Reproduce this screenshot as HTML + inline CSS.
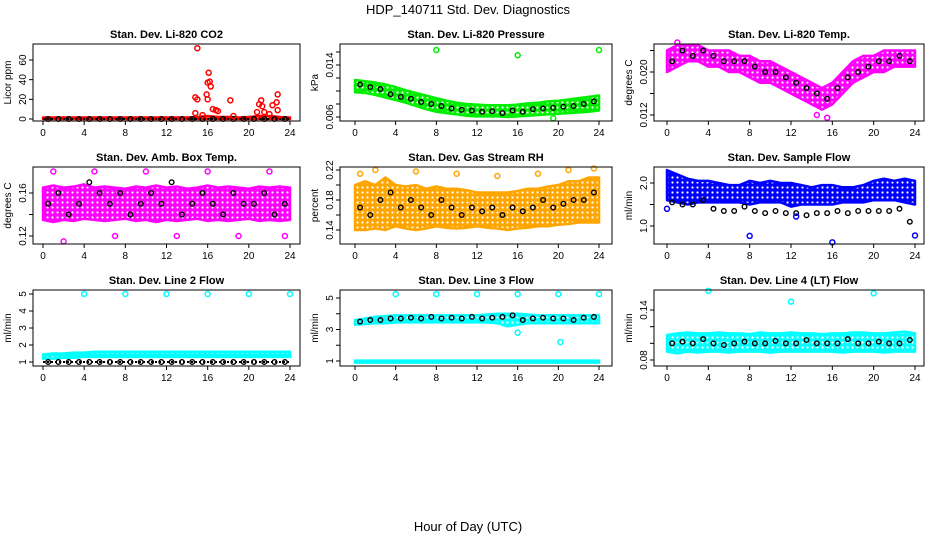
<!DOCTYPE html>
<html><head><meta charset="utf-8"><style>
body{margin:0;background:#fff}
svg{display:block;font-family:"Liberation Sans",sans-serif}
</style></head><body>
<svg id="c" width="936" height="540">
<defs id="defs"></defs>
<text x="468" y="14" font-size="13" text-anchor="middle">HDP_140711  Std. Dev. Diagnostics</text>
<text x="468" y="531" font-size="13" text-anchor="middle">Hour of Day (UTC)</text>
</svg>
<script>
const xTicks=[0,4,8,12,16,20,24];
// CO2
const co2Lo=[0,0,0,0,0,0,0,0,0,0,0,0,0,0,0,0,0,0,0,0,0,0,0,0,0];
const co2Hi=[1.5,1.5,1.5,1.5,1.5,1.5,1.5,1.5,1.5,1.5,1.5,1.5,1.5,1.5,1.5,2,3,2,2,1.5,2,3,3,2,1.5];
const co2Black=[0,0,0,0,0,0,0,0,0,0,0,0,0,0,0,0,0,0,0,0,0,0,0,0];
const co2OutX=[15,14.8,15,15.9,16,16,16.1,16.2,16.3,16.5,17,18.2,14.8,16.8,20.8,21,21.2,21.3,22.3,22.7,22.8,22.8,21.5,22,15.5,18.5];
const co2OutY=[72,22,20,25,20,37,47,38,33,10,8,19,6,9,7,15,19,13,14,17,25,9,7,5,4,3];
// Pressure
const prLo=[0.0098,0.0097,0.0094,0.0090,0.0086,0.0082,0.0077,0.0072,0.0068,0.0066,0.0064,0.0062,0.0061,0.0061,0.0061,0.0060,0.0061,0.0062,0.0063,0.0064,0.0065,0.0066,0.0067,0.0068,0.0070];
const prHi=[0.0117,0.0115,0.0113,0.0110,0.0106,0.0101,0.0097,0.0093,0.0089,0.0085,0.0082,0.0080,0.0079,0.0078,0.0078,0.0078,0.0079,0.0081,0.0082,0.0084,0.0085,0.0087,0.0089,0.0091,0.0093];
const prBlack=[0.0110,0.0106,0.0103,0.0095,0.0091,0.0088,0.0083,0.0080,0.0077,0.0073,0.0071,0.0070,0.0068,0.0069,0.0066,0.0070,0.0068,0.0072,0.0073,0.0074,0.0076,0.0077,0.0080,0.0084];
const prOutX=[8,16,24,19.5];
const prOutY=[0.0163,0.0155,0.0163,0.0058];
// Temp
const tpLo=[0.020,0.021,0.022,0.022,0.021,0.021,0.020,0.020,0.019,0.018,0.018,0.017,0.016,0.015,0.014,0.013,0.014,0.016,0.018,0.019,0.020,0.020,0.021,0.021,0.021];
const tpHi=[0.024,0.025,0.025,0.025,0.024,0.024,0.024,0.023,0.023,0.022,0.022,0.021,0.020,0.019,0.018,0.017,0.018,0.020,0.022,0.023,0.023,0.024,0.024,0.024,0.024];
const tpBlack=[0.022,0.024,0.023,0.024,0.023,0.022,0.022,0.022,0.021,0.020,0.020,0.019,0.018,0.017,0.016,0.015,0.017,0.019,0.020,0.021,0.022,0.022,0.023,0.022];
const tpOutX=[1,14.5,15.5];
const tpOutY=[0.0255,0.012,0.0115];
// Amb box
const abLo=[0.135,0.133,0.135,0.134,0.136,0.135,0.134,0.135,0.136,0.134,0.135,0.133,0.135,0.134,0.135,0.136,0.134,0.135,0.134,0.135,0.136,0.134,0.135,0.134,0.135];
const abHi=[0.165,0.167,0.165,0.166,0.168,0.165,0.166,0.165,0.164,0.166,0.165,0.167,0.165,0.166,0.164,0.165,0.167,0.165,0.166,0.165,0.164,0.166,0.165,0.166,0.165];
const abBlack=[0.15,0.16,0.14,0.15,0.17,0.16,0.15,0.16,0.14,0.15,0.16,0.15,0.17,0.14,0.15,0.16,0.15,0.14,0.16,0.15,0.15,0.16,0.14,0.15];
const abOutX=[1,2,5,7,10,13,16,19,22,23.5];
const abOutY=[0.18,0.115,0.18,0.12,0.18,0.12,0.18,0.12,0.18,0.12];
// RH
const rhLo=[0.14,0.14,0.142,0.14,0.145,0.142,0.14,0.142,0.145,0.143,0.142,0.143,0.145,0.143,0.142,0.14,0.142,0.143,0.145,0.145,0.147,0.148,0.15,0.15,0.15];
const rhHi=[0.20,0.205,0.20,0.21,0.20,0.198,0.20,0.195,0.198,0.195,0.195,0.193,0.19,0.19,0.19,0.19,0.192,0.195,0.195,0.198,0.20,0.205,0.205,0.21,0.21];
const rhBlack=[0.17,0.16,0.18,0.19,0.17,0.18,0.17,0.16,0.18,0.17,0.16,0.17,0.165,0.17,0.16,0.17,0.165,0.17,0.18,0.17,0.175,0.18,0.18,0.19];
const rhOutX=[0.5,2,6,10,14,18,21,23.5];
const rhOutY=[0.215,0.22,0.218,0.215,0.212,0.215,0.22,0.222];
// Sample flow
const sfLo=[1.6,1.55,1.5,1.55,1.55,1.55,1.55,1.55,1.5,1.55,1.55,1.55,1.45,1.5,1.5,1.5,1.5,1.55,1.55,1.55,1.6,1.6,1.6,1.55,1.5];
const sfHi=[2.3,2.2,2.1,2.05,2.05,2.0,1.95,1.95,2.05,2.0,2.05,2.0,2.0,1.95,1.9,1.95,1.95,1.9,1.9,1.95,2.05,2.1,2.05,2.1,2.05];
const sfBlack=[1.55,1.5,1.5,1.6,1.4,1.35,1.35,1.45,1.35,1.3,1.35,1.3,1.3,1.25,1.3,1.3,1.35,1.3,1.35,1.35,1.35,1.35,1.4,1.1];
const sfOutX=[0,8,16,24,12.5];
const sfOutY=[1.4,0.77,0.62,0.78,1.22];
// Line 2
const l2Lo=[1.2,1.2,1.25,1.25,1.3,1.3,1.3,1.3,1.3,1.3,1.3,1.3,1.3,1.3,1.3,1.3,1.3,1.3,1.3,1.3,1.3,1.3,1.3,1.3,1.3];
const l2Hi=[1.45,1.5,1.5,1.55,1.55,1.6,1.6,1.6,1.6,1.6,1.6,1.6,1.6,1.6,1.6,1.6,1.6,1.6,1.6,1.6,1.6,1.6,1.6,1.6,1.6];
const l2Black=[1,1,1,1,1,1,1,1,1,1,1,1,1,1,1,1,1,1,1,1,1,1,1,1];
const l2OutX=[4,8,12,16,20,24];
const l2OutY=[5,5,5,5,5,5];
// Line 3
const l3Lo=[3.3,3.35,3.4,3.4,3.45,3.45,3.45,3.45,3.45,3.45,3.45,3.45,3.45,3.45,3.4,3.2,3.3,3.4,3.4,3.4,3.4,3.4,3.4,3.4,3.4];
const l3Hi=[3.6,3.7,3.8,3.85,3.9,3.9,3.9,3.9,3.9,3.9,3.9,3.9,3.9,3.95,4.0,4.0,4.0,3.95,3.9,3.9,3.9,3.9,3.9,3.9,3.9];
const l3Black=[3.5,3.6,3.6,3.7,3.7,3.75,3.7,3.8,3.7,3.75,3.7,3.8,3.7,3.75,3.8,3.9,3.6,3.7,3.75,3.7,3.7,3.6,3.75,3.8];
const l3OutX=[4,8,12,16,20,24,20.2,16];
const l3OutY=[5.25,5.25,5.25,5.25,5.25,5.25,2.2,2.8];
const l3BaseLo=[0.9,0.9,0.9,0.9,0.9,0.9,0.9,0.9,0.9,0.9,0.9,0.9,0.9,0.9,0.9,0.9,0.9,0.9,0.9,0.9,0.9,0.9,0.9,0.9,0.9];
const l3BaseHi=[1.02,1.02,1.02,1.02,1.02,1.02,1.02,1.02,1.02,1.02,1.02,1.02,1.02,1.02,1.02,1.02,1.02,1.02,1.02,1.02,1.02,1.02,1.02,1.02,1.02];
// Line 4
const l4Lo=[0.09,0.088,0.09,0.089,0.09,0.09,0.089,0.09,0.09,0.09,0.089,0.09,0.09,0.09,0.09,0.09,0.09,0.089,0.09,0.09,0.09,0.089,0.09,0.09,0.09];
const l4Hi=[0.11,0.112,0.113,0.112,0.112,0.113,0.112,0.112,0.111,0.113,0.112,0.112,0.113,0.112,0.112,0.111,0.112,0.112,0.113,0.113,0.112,0.112,0.113,0.114,0.112];
const l4Black=[0.1,0.102,0.1,0.105,0.1,0.098,0.1,0.102,0.1,0.1,0.103,0.1,0.1,0.104,0.1,0.1,0.1,0.105,0.1,0.1,0.102,0.1,0.1,0.104];
const l4OutX=[4,12,20];
const l4OutY=[0.163,0.15,0.16];

const panels=[
{name:'co2',title:'Stan. Dev. Li-820 CO2',ylab:'Licor ppm',box:[33,44,300,121],xp:[43,290],yv:[0,60],yp:[119,60],yt:[0,20,40,60],yl:['0','20','40','60'],col:'#ff0000',lo:co2Lo,hi:co2Hi,blk:co2Black,ox:co2OutX,oy:co2OutY,cross:true},
{name:'pressure',title:'Stan. Dev. Li-820 Pressure',ylab:'kPa',box:[340,44,612,121],xp:[355,599],yv:[0.006,0.014],yp:[117,65],yt:[0.006,0.008,0.010,0.012,0.014,0.016],yl:['0.006','','','','0.014',''],col:'#00ee00',lo:prLo,hi:prHi,blk:prBlack,ox:prOutX,oy:prOutY},
{name:'temp',title:'Stan. Dev. Li-820 Temp.',ylab:'degrees C',box:[654,44,924,121],xp:[667,915],yv:[0.012,0.020],yp:[115,72],yt:[0.012,0.016,0.020,0.024],yl:['0.012','','0.020',''],col:'#ff00ff',lo:tpLo,hi:tpHi,blk:tpBlack,ox:tpOutX,oy:tpOutY},
{name:'amb-box',title:'Stan. Dev. Amb. Box Temp.',ylab:'degrees C',box:[33,167,300,244],xp:[43,290],yv:[0.12,0.16],yp:[236,193],yt:[0.12,0.14,0.16],yl:['0.12','','0.16'],col:'#ff00ff',lo:abLo,hi:abHi,blk:abBlack,ox:abOutX,oy:abOutY},
{name:'rh',title:'Stan. Dev. Gas Stream RH',ylab:'percent',box:[340,167,612,244],xp:[355,599],yv:[0.14,0.22],yp:[230,170],yt:[0.14,0.16,0.18,0.20,0.22],yl:['0.14','','0.18','','0.22'],col:'#ffa500',lo:rhLo,hi:rhHi,blk:rhBlack,ox:rhOutX,oy:rhOutY},
{name:'sample-flow',title:'Stan. Dev. Sample Flow',ylab:'ml/min',box:[654,167,924,244],xp:[667,915],yv:[1,2],yp:[226,183],yt:[1,1.5,2],yl:['1.0','','2.0'],col:'#0000ff',lo:sfLo,hi:sfHi,blk:sfBlack,ox:sfOutX,oy:sfOutY},
{name:'line2',title:'Stan. Dev. Line 2 Flow',ylab:'ml/min',box:[33,290,300,366],xp:[43,290],yv:[1,5],yp:[362,294],yt:[1,2,3,4,5],yl:['1','2','3','4','5'],col:'#00ffff',lo:l2Lo,hi:l2Hi,blk:l2Black,ox:l2OutX,oy:l2OutY,cross:true},
{name:'line3',title:'Stan. Dev. Line 3 Flow',ylab:'ml/min',box:[340,290,612,366],xp:[355,599],yv:[1,5],yp:[361,298],yt:[1,2,3,4,5],yl:['1','','3','','5'],col:'#00ffff',lo:l3Lo,hi:l3Hi,blk:l3Black,ox:l3OutX,oy:l3OutY,lo2:l3BaseLo,hi2:l3BaseHi},
{name:'line4',title:'Stan. Dev. Line 4 (LT) Flow',ylab:'ml/min',box:[654,290,924,366],xp:[667,915],yv:[0.08,0.14],yp:[360,310],yt:[0.08,0.10,0.12,0.14],yl:['0.08','','','0.14'],col:'#00ffff',lo:l4Lo,hi:l4Hi,blk:l4Black,ox:l4OutX,oy:l4OutY}
];
const NS='http://www.w3.org/2000/svg';
const svg=document.getElementById('c');
const defs=document.getElementById('defs');
function mk(t,a,p){const e=document.createElementNS(NS,t);for(const k in a)e.setAttribute(k,a[k]);(p||svg).appendChild(e);return e;}
panels.forEach((P,pi)=>{
  const pat=mk('pattern',{id:'pat'+pi,width:5,height:5,patternUnits:'userSpaceOnUse'},defs);
  mk('rect',{width:5,height:5,fill:P.col},pat);
  mk('circle',{cx:2.5,cy:2.5,r:1.1,fill:'#fff'},pat);
  const g=mk('g',{});
  
  
  const X=h=>P.xp[0]+(P.xp[1]-P.xp[0])*h/24;
  const Y=v=>P.yp[0]+(P.yp[1]-P.yp[0])*(v-P.yv[0])/(P.yv[1]-P.yv[0]);
  const [x0,y0,x1,y1]=P.box;
  const t=mk('text',{x:(x0+x1)/2,y:y0-6,'font-size':11,'font-weight':'bold','text-anchor':'middle'},g);t.textContent=P.title;
  
  
  const yl=mk('text',{x:0,y:0,'font-size':10,'text-anchor':'middle',transform:`translate(${x0-22},${(y0+y1)/2}) rotate(-90)`},g);yl.textContent=P.ylab;
  
  
  function band(lo,hi){
    let pts=lo.map((v,i)=>X(i)+','+Y(v));
    for(let i=hi.length-1;i>=0;i--)pts.push(X(i)+','+Y(hi[i]));
    const b=mk('polygon',{points:pts.join(' '),fill:'url(#pat'+pi+')',stroke:P.col,'stroke-width':2.5,'stroke-linejoin':'round'},g);
    
    
  }
  band(P.lo,P.hi);
  if(P.lo2)band(P.lo2,P.hi2);
  P.blk.forEach((v,i)=>{
    const c=mk('circle',{cx:X(i+0.5),cy:Y(v),r:2.3,fill:'none',stroke:'#000','stroke-width':1.4},g);
    
    
  });
  if(P.cross){
    const l=mk('line',{x1:X(0),x2:X(24),y1:Y(P.blk[0]),y2:Y(P.blk[0]),stroke:'#000','stroke-width':2,'stroke-dasharray':'2,2'},g);
    
    
  }
  P.ox.forEach((h,i)=>{
    const c=mk('circle',{cx:X(h),cy:Y(P.oy[i]),r:2.5,fill:'none',stroke:P.col,'stroke-width':1.5},g);
    
    
  });
  const bx=mk('rect',{x:x0,y:y0,width:x1-x0,height:y1-y0,fill:'none',stroke:'#000','stroke-width':1},g);
  
  
  xTicks.forEach(h=>{
    mk('line',{x1:X(h),x2:X(h),y1:y1,y2:y1+4,stroke:'#000'},g);
    const tx=mk('text',{x:X(h),y:y1+15,'font-size':10,'text-anchor':'middle'},g);tx.textContent=h;
    
    
  });
  P.yt.forEach((v,i)=>{
    const yy=Y(v);
    if(yy<y0-1)return;
    mk('line',{x1:x0-4,x2:x0,y1:yy,y2:yy,stroke:'#000'},g);
    if(P.yl[i]){
      const ty=mk('text',{x:0,y:0,'font-size':10,'text-anchor':'middle',transform:`translate(${x0-7},${yy}) rotate(-90)`},g);ty.textContent=P.yl[i];
      
      
    }
  });
});
</script>
</body></html>
